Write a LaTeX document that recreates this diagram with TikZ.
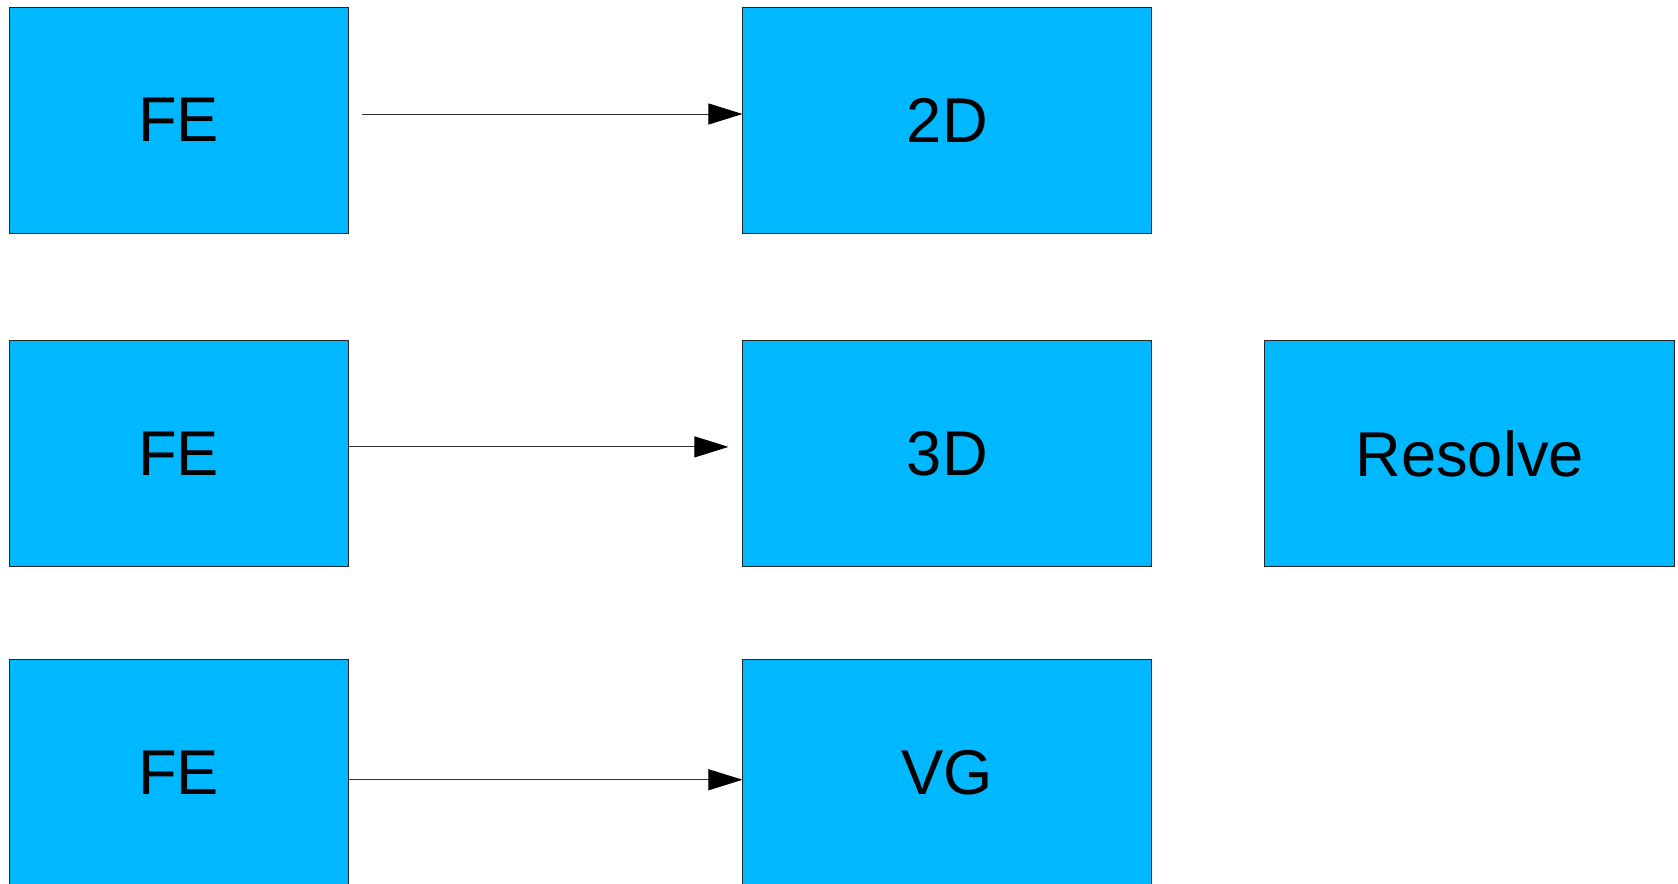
\documentclass[tikz,border=0pt]{standalone}
\usepackage{fontspec}
\setmainfont{Liberation Sans}
\usetikzlibrary{positioning}
\usetikzlibrary{arrows.meta}

\definecolor{boxblue}{RGB}{0,184,255}

\begin{document}
\begin{tikzpicture}[
		stage/.style={
			draw=black!85,
			fill=boxblue,
			rectangle,
			line width=0.5pt,
			minimum width=6.78cm,
			minimum height=4.52cm,
			font=\fontsize{36}{40}\selectfont},
		stage_wide/.style={
			stage,
			minimum width=8.18cm},
		flow/.style={
			draw=black!80,
			line width=0.5pt,
			-{Triangle[length=0.68cm, width=0.42cm, black]}},
		]

		\useasboundingbox (0,0) rectangle (33.56,-17.66);

		%Front ends
		\node (fe1)[stage] at (3.57,-2.4) {FE};
		\node (fe2)[stage, below = 2.14cm of fe1] {FE};
		\node (fe3)[stage, below = 1.84cm of fe2] {FE};

		%Pipelines
		\node (twod)[stage_wide, right = 7.88cm of fe1] {2D};
		\node (threed)[stage_wide, right = 7.88cm of fe2] {3D};
		\node (vg)[stage_wide, right = 7.88cm of fe3] {VG};

		%Resolve
		\node (resolve)[stage_wide, minimum width=8.2cm, right = 2.24cm of threed] {Resolve};

		%Arrows
		\draw[flow] ([xshift=0.28cm, yshift=0.12cm]fe1.east) -- ([yshift=0.12cm]twod.west);
		\draw[flow] ([yshift=0.14cm]fe2.east) -- ([xshift=-0.28cm, yshift=0.14cm]threed.west);
		\draw[flow] ([yshift=-0.14cm]fe3.east) -- ([yshift=-0.14cm]vg.west);

	\end{tikzpicture}
\end{document}
